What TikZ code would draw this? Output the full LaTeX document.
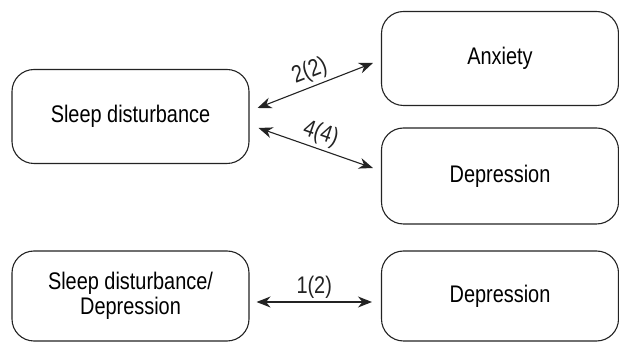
\documentclass[tikz,border=0pt]{standalone}
\usepackage{fontspec}
\setmainfont{Liberation Sans}[FakeStretch=0.83]
\usepackage{xcolor}
\definecolor{LineGray}{RGB}{35,35,35}
\usepackage{tikz}
\usetikzlibrary{
  arrows, arrows.meta,
  positioning, calc
}
\tikzset{
  % Rounded outcome box
  rbox/.style={
    rectangle, rounded corners=22pt,
    draw=LineGray, line width=1.1pt,
    fill=white,
    align=center,
    minimum width=237pt, minimum height=94pt,
    font=\fontsize{24}{25}\selectfont,
    inner sep=4pt
  },
  % Double headed arrow
  biarr/.style={{Stealth[length=14pt,width=11pt]}-{Stealth[length=14pt,width=11pt]}, line width=1.1pt, LineGray},
  % Arrow label
  alabel/.style={font=\fontsize{24}{25}\selectfont, inner sep=3pt},
}

\begin{document}
\begin{tikzpicture}[x=1pt,y=-1pt]
  \useasboundingbox (0,0) rectangle (619,344);

  % Upper group
  \node[rbox] (sleep) at (130.5,116.5) {Sleep disturbance};
  \node[rbox] (anx)   at (500,58.5)   {Anxiety};
  \node[rbox, minimum height=96pt] (dep) at (500,176) {Depression};

  % Lower group
  \node[rbox, minimum height=90pt] (sleepdep) at (130.5,296) {Sleep disturbance/\\Depression};
  \node[rbox, minimum height=90pt] (deplow)   at (500,296)   {Depression};

  % Links
  \draw[biarr] ([shift={(8pt,8.5pt)}]sleep.east) -- ([shift={(-8pt,-4.5pt)}]anx.west)
    node[alabel, midway, above, sloped] {2(2)};
  \draw[biarr] ([shift={(9pt,-11.5pt)}]sleep.east) -- ([shift={(-8pt,8pt)}]dep.west)
    node[alabel, midway, above, sloped] {4(4)};
  \draw[biarr] ([shift={(7pt,-6pt)}]sleepdep.east) -- ([shift={(-9pt,-6pt)}]deplow.west)
    node[alabel, midway, above] {1(2)};
\end{tikzpicture}
\end{document}
